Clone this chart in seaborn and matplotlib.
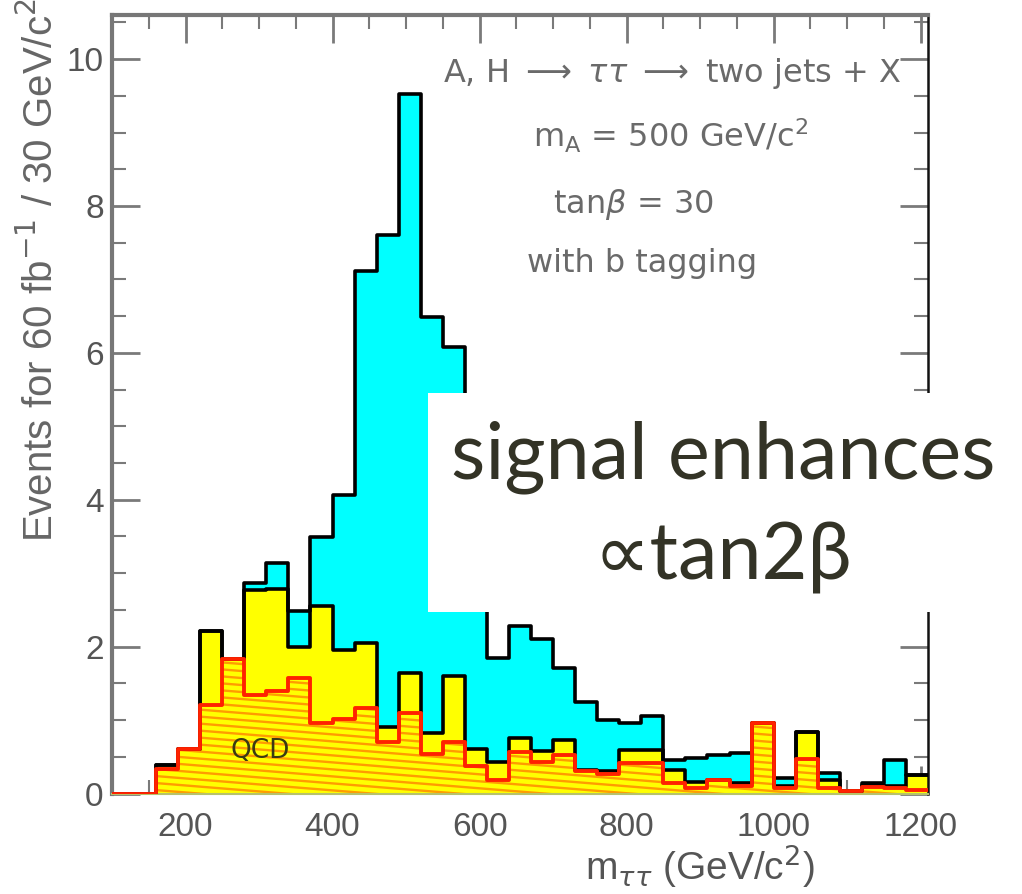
import numpy as np
import matplotlib
matplotlib.use("Agg")
import matplotlib.pyplot as plt
import seaborn as sns
from matplotlib.collections import LineCollection
from matplotlib.patches import Rectangle
from matplotlib.ticker import MultipleLocator

# ---------------- data ----------------
bin_edges = list(range(100, 1211, 30))          # 30 GeV bins, 100 .. 1210

qcd = [0, 0, 0.33, 0.61, 1.21, 1.83, 1.34, 1.40, 1.57, 0.96,
       1.02, 1.17, 0.70, 1.10, 0.54, 0.70, 0.37, 0.18, 0.57, 0.43,
       0.52, 0.30, 0.27, 0.41, 0.41, 0.14, 0.08, 0.18, 0.10, 0.96,
       0.08, 0.47, 0.08, 0.04, 0.09, 0.08, 0.05]

qcd_plus_bkg = [0, 0, 0.39, 0.61, 2.21, 1.83, 2.77, 2.78, 2.00, 2.55,
                1.95, 2.05, 0.90, 1.64, 0.83, 1.60, 0.60, 0.43, 0.76, 0.58,
                0.73, 0.32, 0.30, 0.59, 0.59, 0.32, 0.16, 0.18, 0.14, 0.96,
                0.10, 0.84, 0.18, 0.04, 0.11, 0.10, 0.25]

total = [0, 0, 0.39, 0.61, 2.21, 1.83, 2.86, 3.14, 2.48, 3.49,
         4.06, 7.12, 7.61, 9.53, 6.49, 6.08, 3.30, 1.84, 2.28, 2.10,
         1.71, 1.24, 1.00, 0.96, 1.06, 0.46, 0.49, 0.53, 0.55, 0.96,
         0.21, 0.84, 0.28, 0.04, 0.14, 0.46, 0.25]

x_ticks = [200, 400, 600, 800, 1000, 1200]
y_ticks = [0, 2, 4, 6, 8, 10]

info_lines = [r"A, H $\longrightarrow$ $\tau\tau$ $\longrightarrow$ two jets + X",
              r"m$_{\rm A}$ = 500 GeV/c$^2$",
              r"tan$\beta$ = 30",
              "with b tagging"]
box_lines = ["signal enhances", "∝tan2β"]

# ---------------- style ----------------
sns.set_theme(style="ticks")
plt.rcParams["font.family"] = ["Liberation Sans Narrow", "Liberation Sans", "DejaVu Sans"]
plt.rcParams["mathtext.fontset"] = "dejavusans"

W, H = 1022, 894
fig = plt.figure(figsize=(W / 100, H / 100), dpi=100)
fig.patch.set_facecolor("white")
ax = fig.add_axes([112 / W, 1 - 793.5 / H, 816 / W, 778.5 / H])
ax.set_facecolor("white")

edges_arr = np.asarray(bin_edges, dtype=float)
centers = edges_arr[:-1] + np.diff(edges_arr) / 2

# filled layers
for vals, col in [(total, "#00ffff"), (qcd_plus_bkg, "#ffff00"), (qcd, "#ffff00")]:
    sns.histplot(x=centers, weights=vals, bins=bin_edges, element="step",
                 fill=True, color=col, edgecolor="none", linewidth=0,
                 alpha=1, ax=ax, zorder=1)
qcd_poly = ax.collections[-1]

# shallow slanted hatch on the QCD component
step = 7 / 778.5
slope = 0.085
segs = [[(0, c), (1, c - slope)] for c in np.arange(0, 1 + slope + step, step)]
hatch = LineCollection(segs, colors="#ff9c00", linewidths=1.7,
                       transform=ax.transAxes, zorder=1.5)
ax.add_collection(hatch)
hatch.set_clip_path(qcd_poly.get_paths()[0], qcd_poly.get_transform())

# outlines
for vals, col, lw in [(total, "black", 2.6), (qcd_plus_bkg, "black", 2.6),
                      (qcd, "#ff2200", 2.8)]:
    sns.histplot(x=centers, weights=vals, bins=bin_edges, element="step",
                 fill=False, color=col, linewidth=lw, ax=ax, zorder=3)

# ---------------- axes ----------------
ax.set_xlim(100, 1210)
ax.set_ylim(0, 10.6)
ax.set_xticks(x_ticks)
ax.set_yticks(y_ticks)
ax.xaxis.set_minor_locator(MultipleLocator(50))
ax.yaxis.set_minor_locator(MultipleLocator(0.5))
ax.tick_params(which="both", direction="in", top=True, right=True,
               colors="#7a7a7a", labelcolor="#555555", labelsize=24)
ax.tick_params(which="major", length=20, width=2)
ax.tick_params(which="minor", length=10, width=1.5)
ax.tick_params(axis="x", pad=13)
ax.tick_params(axis="y", pad=6)

for side, col, lw in [("left", "#777777", 3), ("top", "#777777", 3),
                      ("right", "#111111", 1.8), ("bottom", "#b7c26a", 1.5)]:
    ax.spines[side].set_color(col)
    ax.spines[side].set_linewidth(lw)

ax.set_xlabel(r"m$_{\tau\tau}$ (GeV/c$^2$)", fontsize=28, color="#555555")
ax.set_ylabel(r"Events for 60 fb$^{-1}$ / 30 GeV/c$^2$", fontsize=29, color="#666666")
ax.xaxis.label.set_va("center")
ax.yaxis.label.set_va("center")
ax.xaxis.set_label_coords((700 - 112) / 816, -(866 - 793.5) / 778.5)
ax.yaxis.set_label_coords((40 - 112) / 816, (793.5 - 270) / 778.5)

# ---------------- annotations ----------------
info_pos = [(443, 82), (533, 148), (553, 213), (527, 272)]
for txt, (px, py) in zip(info_lines, info_pos):
    fig.text(px / W, 1 - py / H, txt, fontsize=23, color="#6a6a6a",
             family=["DejaVu Sans"], ha="left", va="baseline")

fig.text(230 / W, 1 - 758 / H, "QCD", fontsize=19, color="#3a3a14",
         family=["DejaVu Sans"], ha="left", va="baseline")

rect = Rectangle((428 / W, 1 - 612 / H), (W - 428) / W, (612 - 393) / H,
                 transform=fig.transFigure, facecolor="white",
                 edgecolor="none", zorder=10)
fig.add_artist(rect)
for txt, py in zip(box_lines, [478, 580]):
    fig.text(723 / W, 1 - py / H, txt, fontsize=57, color="#333326",
             family=["Lato", "DejaVu Sans"], ha="center", va="baseline",
             zorder=11)

fig.savefig("out.png", dpi=100, facecolor="white")
